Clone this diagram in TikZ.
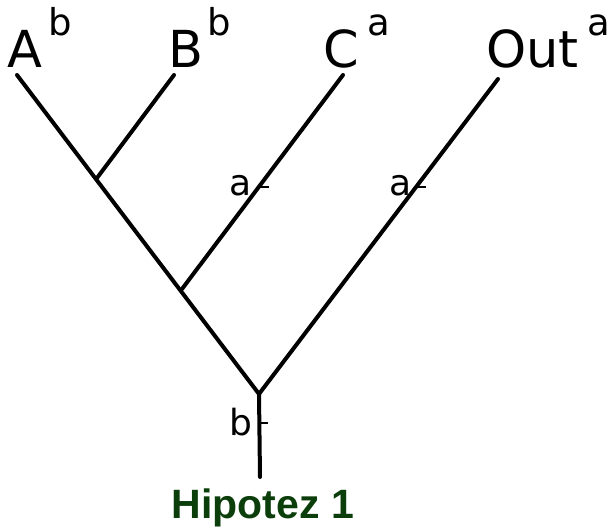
\documentclass[tikz,border=0pt]{standalone}
\usepackage{fontspec}
\newfontfamily\lblfont{DejaVu Sans}
\newfontfamily\titlefont{Liberation Sans}
\definecolor{titlegreen}{RGB}{12,62,12}
\tikzset{
  branch/.style={line width=4pt, line cap=round},
  tick/.style={line width=1.6pt},
  tip/.style={inner sep=0pt, anchor=base west, font=\lblfont\fontsize{51}{51}\selectfont},
  suplbl/.style={inner sep=0pt, anchor=base west, font=\lblfont\fontsize{37}{37}\selectfont},
  statelbl/.style={inner sep=0pt, anchor=base west, font=\lblfont\fontsize{36}{36}\selectfont},
}
\begin{document}
\begin{tikzpicture}[x=1pt,y=-1pt]
\useasboundingbox (0,0) rectangle (611,531);
% coordinates
\coordinate (tipA) at (17,75);
\coordinate (tipB) at (174,75);
\coordinate (tipC) at (343,75);
\coordinate (tipO) at (498,79);
\coordinate (jAB) at (97,178);
\coordinate (jC) at (182,289);
\coordinate (root) at (259,394);
\coordinate (base) at (260,477);
\coordinate (tkC) at (259.5,187);
\coordinate (tkO) at (416,187);
\coordinate (tkR) at (260,423);
% branches
\draw[branch] (tipA) -- (root);
\draw[branch] (tipB) -- (jAB);
\draw[branch] (tipC) -- (jC);
\draw[branch] (tipO) -- (root);
\draw[branch] (root) -- (base);
% ticks
\draw[tick] (tkC) -- ++(9,0);
\draw[tick] (tkO) -- ++(10,0);
\draw[tick] (tkR) -- ++(8,0);
% tip labels
\node[tip] (lA) at (7,67) {A};
\node[suplbl] (sA) at (48,35) {b};
\node[tip] (lB) at (168,67) {B};
\node[suplbl] (sB) at (207,35) {b};
\node[tip] (lC) at (323,67) {C};
\node[suplbl] (sC) at (367,35) {a};
\node[tip] (lO) at (486,67) {Out};
\node[suplbl] (sO) at (587,35) {a};
% state labels
\node[statelbl] (aC) at (229,195) {a};
\node[statelbl] (aO) at (389,195) {a};
\node[statelbl] (bR) at (229,435) {b};
% title
\node[inner sep=0pt, anchor=base, text=titlegreen, font=\titlefont\bfseries\fontsize{41}{41}\selectfont] (title) at (263,518) {Hipotez 1};
\end{tikzpicture}
\end{document}
